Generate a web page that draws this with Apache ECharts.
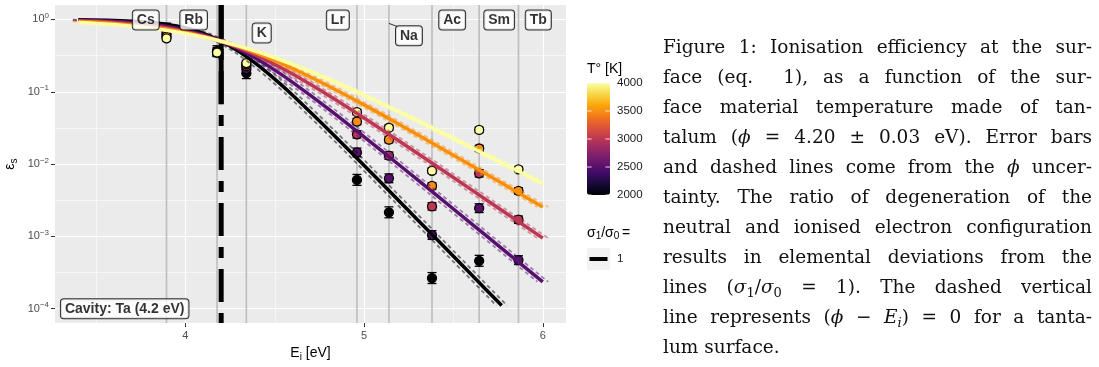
<!DOCTYPE html>
<html>
<head>
<meta charset="utf-8">
<script src="https://cdn.jsdelivr.net/npm/echarts@6/dist/echarts.min.js"></script>
<style>
  html, body { margin: 0; padding: 0; background: #fff; }
  #wrap { position: relative; width: 1099px; height: 367px; overflow: hidden; }
  #chart { position: absolute; left: 0; top: 0; width: 1099px; height: 367px; }
  #caption { position: absolute; left: 663px; top: 32px; width: 429px;
    font-family: 'DejaVu Serif', 'Liberation Serif', serif; font-size: 18.5px; line-height: 30px; color: #111; }
  #caption .l { text-align: justify; text-align-last: justify; }
  #caption .last { text-align: left; }
  #caption sub { font-size: 13px; line-height: 0; vertical-align: -4px; }
</style>
</head>
<body>
<div id="wrap">
  <div id="chart"></div>
  <div id="caption">
    <div class="l">Figure 1: Ionisation efficiency at the sur-</div>
    <div class="l">face (eq.&nbsp; 1), as a function of the sur-</div>
    <div class="l">face material temperature made of tan-</div>
    <div class="l">talum (<i>ϕ</i> = 4.20 ± 0.03 eV). Error bars</div>
    <div class="l">and dashed lines come from the <i>ϕ</i> uncer-</div>
    <div class="l">tainty. The ratio of degeneration of the</div>
    <div class="l">neutral and ionised electron configuration</div>
    <div class="l">results in elemental deviations from the</div>
    <div class="l">lines (<i>σ</i><sub>1</sub>/<i>σ</i><sub>0</sub> = 1). The dashed vertical</div>
    <div class="l">line represents (<i>ϕ</i> − <i>E<sub>i</sub></i>) = 0 for a tanta-</div>
    <div class="last">lum surface.</div>
  </div>
</div>
<script>
(function () {

    // --- data ---
    const elements = ['Cs', 'Rb', 'K', 'Lr', 'Na', 'Ac', 'Sm', 'Tb'];
    const ionEnergy = [3.894, 4.177, 4.341, 4.96, 5.139, 5.38, 5.644, 5.864];

    const temperatures = [2000, 2500, 3000, 3500, 4000];
    const inferno = ['#000004', '#160b39', '#420a68', '#6a176e', '#932667', '#bc3754',
                     '#dd513a', '#f37819', '#fca50a', '#f6d746', '#fcffa4'];
    const tempColors = ['#000004', '#57106e', '#bc3754', '#f98e09', '#fcffa4'];

    // measured efficiency per element (null = below 1e-4, not drawn)
    const eff2000 = [0.747, 0.364, 0.181, 0.00604, 0.00215, 0.000265, 0.000459, null];
    const eff2500 = [0.674, 0.3575, 0.206, 0.01447, 0.00635, 0.001043, 0.002452, 0.000469];
    const eff3000 = [0.620, 0.3534, 0.2247, 0.02575, 0.01305, 0.002597, 0.00745, 0.0017];
    const eff3500 = [0.580, 0.3505, 0.2385, 0.0387, 0.02174, 0.004975, 0.01642, 0.00425];
    const eff4000 = [0.549, 0.3483, 0.249, 0.0522, 0.0318, 0.00808, 0.02965, 0.00845];
    // error bar half size (multiplicative) per temperature
    const errFactor = [1.19, 1.149, 1.123, 1.105, 1.091];

    // sigma1/sigma0 = 1 curves
    const curveEi = [3.4, 3.6, 3.8, 3.9, 4.0, 4.1, 4.2, 4.3, 4.4, 4.5, 4.6, 4.8, 5.0, 5.2, 5.4, 5.6, 5.77, 6.0];
    const curve2000 = [0.9905, 0.9701, 0.9106, 0.8508, 0.7614, 0.6411, 0.5, 0.3589, 0.2386, 0.1492, 0.0894,
                       0.02984, 0.00955, 0.003011, 0.000946, 0.0002965, 0.0001104, null];
    const curve2500 = [0.9762, 0.9419, 0.8649, 0.8010, 0.7167, 0.6140, 0.5, 0.3860, 0.2832, 0.1990, 0.1351,
                       0.05814, 0.02380, 0.009548, 0.003797, 0.001503, 0.0006826, 0.000235];
    const curve3000 = [0.9567, 0.9106, 0.8245, 0.7614, 0.6843, 0.5955, 0.5, 0.4045, 0.3157, 0.2386, 0.1755,
                       0.0894, 0.04333, 0.02046, 0.00955, 0.004427, 0.002297, 0.000946];
    const curve3500 = [0.9342, 0.8797, 0.7902, 0.7300, 0.6599, 0.5821, 0.5, 0.4178, 0.3400, 0.2700, 0.2098,
                       0.1203, 0.06583, 0.03504, 0.01837, 0.009548, 0.005457, 0.002552];
    const curve4000 = [0.9106, 0.8508, 0.7614, 0.7048, 0.6411, 0.5720, 0.5, 0.4280, 0.3589, 0.2952, 0.2386,
                       0.1492, 0.0894, 0.05208, 0.02984, 0.01693, 0.010407, 0.005365];

    const phi = 4.2;
    const phiErr = 0.03;
    const phiSolidTo = 0.067;

    // repelled label positions
    const labelEi = [3.778, 4.046, 4.427, 4.853, 5.251, 5.493, 5.756, 5.975];
    const labelEff = [0.985, 0.985, 0.65, 0.985, 0.595, 0.985, 0.985, 0.985];
    const naLeaderEi = [5.139, 5.184];
    const naLeaderEff = [0.882, 0.802];
    const cavityText = 'Cavity: Ta (4.2 eV)';
    const cavityPos = [3.66, 0.0001];

    const xTicks = [4, 5, 6];
    const xMinor = [3.5, 4.5, 5.5];
    const yTicks = [1e-4, 1e-3, 1e-2, 1e-1, 1];
    const yMinor = [Math.pow(10, -3.5), Math.pow(10, -2.5), Math.pow(10, -1.5), Math.pow(10, -0.5)];
    const xMin = 3.27, xMax = 6.13;
    const yMin = Math.pow(10, -4.2), yMax = Math.pow(10, 0.2);

    const effByTemp = [eff2000, eff2500, eff3000, eff3500, eff4000];
    const curves = [curve2000, curve2500, curve3000, curve3500, curve4000];

    const chart = echarts.init(document.getElementById('chart'), null, { renderer: 'canvas' });

    const series = [];

    // element lines
    series.push({
        type: 'custom', silent: true, clip: true,
        encode: { x: 0, y: 1 },
        data: ionEnergy.map(e => [e, 1]),
        renderItem: function (params, api) {
            const a = api.coord([api.value(0), yMax]);
            const b = api.coord([api.value(0), yMin]);
            return { type: 'line', shape: { x1: a[0], y1: a[1], x2: b[0], y2: b[1] },
                     style: { stroke: '#bdbdbd', lineWidth: 1.6 } };
        }
    });

    // phi uncertainty curves (dashed)
    curves.forEach(function (c, k) {
        [-phiErr, phiErr].forEach(function (s) {
            series.push({
                type: 'line', silent: true, symbol: 'none', smooth: 0.3,
                data: curveEi.map((x, i) => c[i] == null ? null : [x + s, c[i]]).filter(d => d),
                lineStyle: { color: tempColors[k], width: 1.8, type: [4, 3], opacity: 0.5 }
            });
        });
    });

    // main curves
    curves.forEach(function (c, k) {
        series.push({
            type: 'line', silent: true, symbol: 'none', smooth: 0.3,
            data: curveEi.map((x, i) => c[i] == null ? null : [x, c[i]]).filter(d => d),
            lineStyle: { color: tempColors[k], width: 3.5 }
        });
    });

    // surface work function line
    series.push({
        type: 'custom', silent: true, clip: true,
        encode: { x: 0, y: 1 },
        data: [[phi, 1]],
        renderItem: function (params, api) {
            const bot = api.coord([api.value(0), yMin]);
            const top = api.coord([api.value(0), yMax]);
            const mid = api.coord([api.value(0), phiSolidTo]);
            return { type: 'group', children: [
                { type: 'line', shape: { x1: bot[0], y1: bot[1], x2: top[0], y2: top[1] },
                  style: { stroke: '#000', lineWidth: 5, lineDash: [11, 11, 33, 11], lineDashOffset: 1 } },
                { type: 'line', shape: { x1: top[0], y1: top[1], x2: mid[0], y2: mid[1] },
                  style: { stroke: '#000', lineWidth: 5 } }
            ] };
        }
    });

    // error bars and points
    const pointData = [];
    const errData = [];
    effByTemp.forEach(function (arr, k) {
        arr.forEach(function (v, i) {
            if (v == null) return;
            pointData.push([ionEnergy[i], v, temperatures[k]]);
            errData.push([ionEnergy[i], v, v / errFactor[k], v * errFactor[k]]);
        });
    });
    series.push({
        type: 'custom', silent: true,
        encode: { x: 0, y: 1 },
        data: errData,
        renderItem: function (params, api) {
            const lo = api.coord([api.value(0), api.value(2)]);
            const hi = api.coord([api.value(0), api.value(3)]);
            const w = 4.5;
            const st = { stroke: '#000', lineWidth: 1.3 };
            return { type: 'group', children: [
                { type: 'line', shape: { x1: lo[0], y1: lo[1], x2: hi[0], y2: hi[1] }, style: st },
                { type: 'line', shape: { x1: lo[0] - w, y1: lo[1], x2: lo[0] + w, y2: lo[1] }, style: st },
                { type: 'line', shape: { x1: hi[0] - w, y1: hi[1], x2: hi[0] + w, y2: hi[1] }, style: st }
            ] };
        }
    });
    const pointIndex = series.length;
    series.push({
        type: 'scatter', silent: true, symbolSize: 9,
        data: pointData,
        itemStyle: { borderColor: '#000', borderWidth: 1.3, opacity: 1 }
    });

    // Na label leader
    series.push({
        type: 'line', silent: true, symbol: 'none', z: 10,
        data: naLeaderEi.map((x, i) => [x, naLeaderEff[i]]),
        lineStyle: { color: '#000', width: 0.8 }
    });

    const boxLabel = {
        show: true, position: 'inside', color: '#000', fontWeight: 'bold', fontSize: 14,
        backgroundColor: '#fff', borderColor: '#000', borderWidth: 1, borderRadius: 3,
        padding: [3, 4, 2, 4],
        formatter: p => p.value[2]
    };
    series.push({
        type: 'scatter', silent: true, symbolSize: 1, z: 10,
        itemStyle: { color: 'transparent' },
        data: elements.map((n, i) => [labelEi[i], labelEff[i], n]),
        label: boxLabel
    });
    series.push({
        type: 'scatter', silent: true, symbolSize: 1, z: 10,
        itemStyle: { color: 'transparent' },
        data: [[cavityPos[0], cavityPos[1], cavityText]],
        label: boxLabel
    });

    const supLabel = v => {
        const e = Math.round(Math.log10(v));
        return '{b|10}{s|' + (e < 0 ? '\u2212' + (-e) : e) + '}';
    };

    // colour bar geometry
    const barLeft = 587, barTop = 83, barW = 23, barH = 112;
    const graphics = [];
    graphics.push({ type: 'text', left: barLeft, top: 62,
        style: { text: 'T\u00b0 [K]', fontSize: 14, fill: '#000', fontFamily: 'Liberation Sans' } });
    temperatures.forEach(function (t) {
        const y = barTop + barH - (t - temperatures[0]) / (temperatures[4] - temperatures[0]) * barH;
        graphics.push({ type: 'line', shape: { x1: barLeft, y1: y, x2: barLeft + 4.6, y2: y },
            style: { stroke: '#fff', lineWidth: 1, opacity: 0.8 }, z: 100 });
        graphics.push({ type: 'line', shape: { x1: barLeft + barW - 4.6, y1: y, x2: barLeft + barW, y2: y },
            style: { stroke: '#fff', lineWidth: 1, opacity: 0.8 }, z: 100 });
        graphics.push({ type: 'text', x: barLeft + barW + 7, y: y,
            style: { text: String(t), fontSize: 11.5, fill: '#1a1a1a', verticalAlign: 'middle',
                     fontFamily: 'Liberation Sans' } });
    });
    graphics.push({ type: 'text', x: barLeft, y: 233,
        style: { text: '{g|\u03c3}{d|1}{g|/\u03c3}{d|0}{g|\u2009=}', verticalAlign: 'middle', fontFamily: 'Liberation Sans',
                 rich: { g: { fontSize: 14, fill: '#000' }, d: { fontSize: 10, fill: '#000', padding: [7, 0, 0, 0] } } } });
    graphics.push({ type: 'rect', shape: { x: barLeft, y: 248, width: barW, height: 22 },
        style: { fill: '#f2f2f2' } });
    graphics.push({ type: 'line', shape: { x1: barLeft + 2.5, y1: 259, x2: barLeft + barW - 2.5, y2: 259 },
        style: { stroke: '#000', lineWidth: 4 } });
    graphics.push({ type: 'text', x: barLeft + barW + 7, y: 259,
        style: { text: '1', fontSize: 11.5, fill: '#1a1a1a', verticalAlign: 'middle', fontFamily: 'Liberation Sans' } });

    const option = {
        animation: false,
        backgroundColor: '#fff',
        textStyle: { fontFamily: 'Liberation Sans, Arial, sans-serif' },
        grid: { left: 55, right: 533, top: 5, bottom: 40, show: true, backgroundColor: '#ebebeb', borderWidth: 0 },
        xAxis: [{
            type: 'value', min: xMin, max: xMax,
            axisLine: { show: false },
            axisTick: { show: true, length: 4, customValues: xTicks, lineStyle: { color: '#333', width: 1 } },
            axisLabel: { customValues: xTicks, color: '#4d4d4d', fontSize: 11, margin: 7, formatter: v => String(v) },
            splitLine: { show: true, lineStyle: { color: '#fff', width: 1.1 } },
            name: '{t|E}{s|i}{t| [eV]}', nameLocation: 'middle', nameGap: 20,
            nameTextStyle: { rich: { t: { fontSize: 14, color: '#000' }, s: { fontSize: 10, color: '#000', padding: [8, 0, 0, 0] } } }
        }, {
            type: 'value', min: xMin, max: xMax, position: 'top',
            axisLine: { show: false }, axisLabel: { show: false },
            axisTick: { show: false, customValues: xMinor },
            splitLine: { show: true, lineStyle: { color: '#fff', width: 0.55 } }
        }],
        yAxis: [{
            type: 'log', logBase: 10, min: yMin, max: yMax,
            axisLine: { show: false },
            axisTick: { show: true, length: 4, customValues: yTicks, lineStyle: { color: '#333', width: 1 } },
            axisLabel: { customValues: yTicks, formatter: supLabel, margin: 6,
                rich: { b: { fontSize: 11, color: '#4d4d4d' }, s: { fontSize: 8, color: '#4d4d4d', padding: [0, 0, 7, 0] } } },
            splitLine: { show: true, lineStyle: { color: '#fff', width: 1.1 } },
            name: '{e|\u03b5}{s|s}', nameLocation: 'middle', nameGap: 36, nameRotate: 90,
            nameTextStyle: { rich: { e: { fontSize: 14, color: '#000' }, s: { fontSize: 10, color: '#000', padding: [8, 0, 0, 0] } } }
        }, {
            type: 'log', logBase: 10, min: yMin, max: yMax, position: 'right',
            axisLine: { show: false }, axisLabel: { show: false },
            axisTick: { show: false, customValues: yMinor },
            splitLine: { show: true, lineStyle: { color: '#fff', width: 0.55 } }
        }],
        visualMap: {
            type: 'continuous', min: 2000, max: 4000, dimension: 2, seriesIndex: pointIndex,
            inRange: { color: inferno }, calculable: false, hoverLink: false, realtime: false,
            orient: 'vertical', itemWidth: barW, itemHeight: barH, left: barLeft, top: barTop,
            padding: 0, text: null, showLabel: false
        },
        graphic: graphics,
        series: series
    };
    chart.setOption(option);
}());
</script>
</body>
</html>
